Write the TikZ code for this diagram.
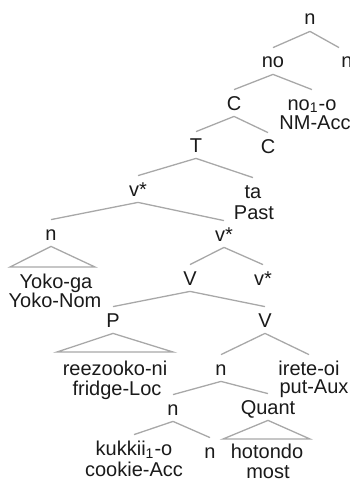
\documentclass[tikz,border=0pt]{standalone}
\usepackage{fontspec}
\setmainfont{Liberation Sans}
\pgfdeclarelayer{edgelayer}
\pgfdeclarelayer{nodelayer}
\pgfsetlayers{edgelayer,nodelayer,main}
\definecolor{inkgray}{HTML}{1A1A1A}
\definecolor{branchgray}{HTML}{A8A8A8}
\tikzstyle{tree_label}=[anchor=base,inner xsep=1pt,inner ysep=2pt,text height=8pt,text depth=1pt,text=inkgray,font=\fontsize{10}{11}\selectfont]
\tikzstyle{branch}=[draw=branchgray,line width=0.65pt]
\begin{document}
\begin{tikzpicture}[x=0.5pt,y=-0.5pt]
	\useasboundingbox (0,0) rectangle (349,482);
	\begin{pgfonlayer}{nodelayer}
		\node [style={tree_label}] (0) at (310, 25) {n};
		\node [style={tree_label}] (1) at (273, 68) {no};
		\node [style={tree_label}] (2) at (347, 68) {n};
		\node [style={tree_label}] (3) at (234, 110) {C};
		\node [style={tree_label}] (4) at (312, 110) {no\textsubscript{1}-o};
		\node [style={tree_label}] (5) at (315, 129) {NM-Acc};
		\node [style={tree_label}] (6) at (196, 152) {T};
		\node [style={tree_label}] (7) at (268, 153) {C};
		\node [style={tree_label}] (8) at (138, 196) {v*};
		\node [style={tree_label}] (9) at (253, 198) {ta};
		\node [style={tree_label}] (10) at (254, 219) {Past};
		\node [style={tree_label}] (11) at (51, 240) {n};
		\node [style={tree_label}] (12) at (224, 241) {v*};
		\node [style={tree_label}] (13) at (56, 288) {Yoko-ga};
		\node [style={tree_label}] (14) at (55, 307) {Yoko-Nom};
		\node [style={tree_label}] (15) at (190, 285) {V};
		\node [style={tree_label}] (16) at (263, 285) {v*};
		\node [style={tree_label}] (17) at (113, 327) {P};
		\node [style={tree_label}] (18) at (265, 327) {V};
		\node [style={tree_label}] (19) at (115, 375) {reezooko-ni};
		\node [style={tree_label}] (20) at (117, 395) {fridge-Loc};
		\node [style={tree_label}] (21) at (221, 375) {n};
		\node [style={tree_label}] (22) at (309, 375) {irete-oi};
		\node [style={tree_label}] (23) at (314, 393) {put-Aux};
		\node [style={tree_label}] (24) at (173, 415) {n};
		\node [style={tree_label}] (25) at (268, 414) {Quant};
		\node [style={tree_label}] (26) at (134, 455) {kukkii\textsubscript{1}-o};
		\node [style={tree_label}] (27) at (134, 476) {cookie-Acc};
		\node [style={tree_label}] (28) at (210, 458) {n};
		\node [style={tree_label}] (29) at (267, 458) {hotondo};
		\node [style={tree_label}] (30) at (268, 478) {most};
		\coordinate (31) at (10, 267);
		\coordinate (32) at (95, 267);
		\coordinate (33) at (57, 352);
		\coordinate (34) at (173, 352);
		\coordinate (35) at (223, 439);
		\coordinate (36) at (310, 439);
	\end{pgfonlayer}
	\begin{pgfonlayer}{edgelayer}
		\draw [style=branch] (0.south) to (1.north);
		\draw [style=branch] (0.south) to (2.north west);
		\draw [style=branch] (1.south) to (3.north);
		\draw [style=branch] (1.south) to (4.north);
		\draw [style=branch] (3.south) to (6.north);
		\draw [style=branch] (3.south) to (7.north);
		\draw [style=branch] (6.south) to (8.north);
		\draw [style=branch] (6.south) to (9.north);
		\draw [style=branch] (8.south) to (11.north);
		\draw [style=branch] (8.south) to (12.north);
		\draw [style=branch] (11.south) to (31) to (32) to cycle;
		\draw [style=branch] (12.south) to (15.north);
		\draw [style=branch] (12.south) to (16.north);
		\draw [style=branch] (15.south) to (17.north);
		\draw [style=branch] (15.south) to (18.north);
		\draw [style=branch] (17.south) to (33) to (34) to cycle;
		\draw [style=branch] (18.south) to (21.north);
		\draw [style=branch] (18.south) to (22.north);
		\draw [style=branch] (21.south) to (24.north);
		\draw [style=branch] (21.south) to (25.north);
		\draw [style=branch] (24.south) to (26.north);
		\draw [style=branch] (24.south) to (28.north);
		\draw [style=branch] (25.south) to (35) to (36) to cycle;
	\end{pgfonlayer}
\end{tikzpicture}
\end{document}
